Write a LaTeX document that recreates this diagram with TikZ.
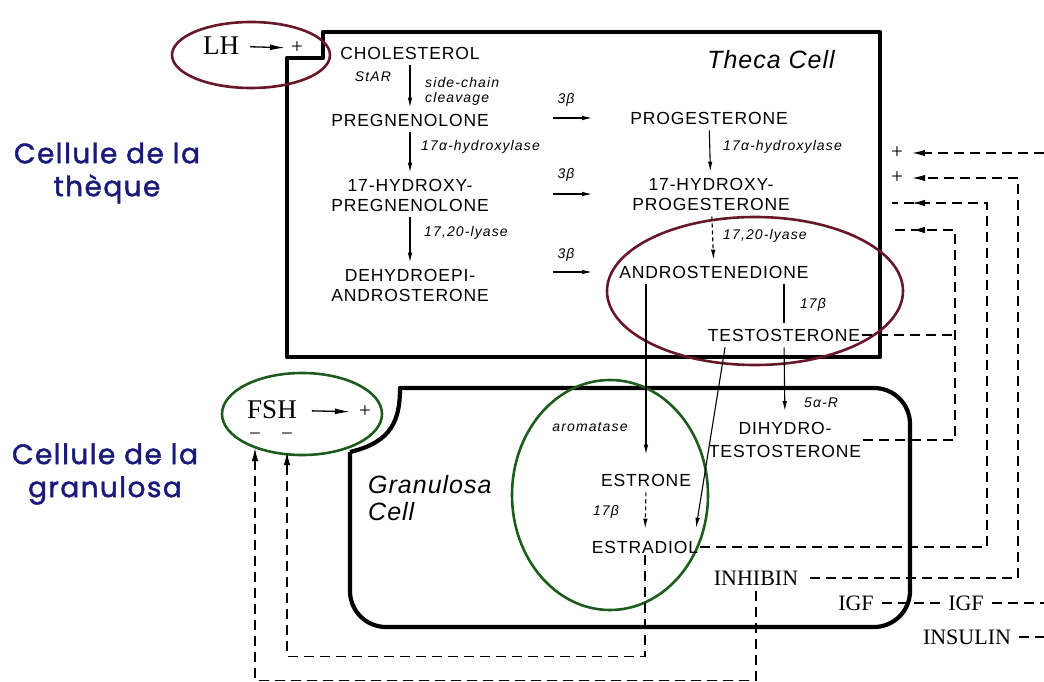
\documentclass[tikz,border=0pt]{standalone}
\usepackage{fontspec}
\setmainfont{Liberation Serif}
\setsansfont{Liberation Sans}
\newfontfamily\stfont[LetterSpace=5]{Liberation Sans}
\newfontfamily\enzfont[LetterSpace=8]{Liberation Sans}
\newfontfamily\titlefont[LetterSpace=4]{Liberation Sans}
\newfontfamily\sidefont[LetterSpace=5,FakeBold=1.6]{Poppins}
\usetikzlibrary{arrows.meta, calc, shapes.geometric, decorations.markings}

\definecolor{thecared}{RGB}{102,24,42}
\definecolor{granugreen}{RGB}{30,92,30}
\definecolor{sideblue}{RGB}{26,26,122}

\tikzset{
  cellwall/.style={line width=4.2pt, line join=round},
  ring/.style={ellipse, draw=#1, line width=2.6pt, inner sep=0pt, outer sep=0pt},
  steroid/.style={font=\stfont\fontsize{17.5}{20}\selectfont, align=center, inner sep=2pt},
  enzyme/.style={font=\enzfont\itshape\fontsize{14}{15}\selectfont, inner sep=1pt},
  hormone/.style={font=\rmfamily\fontsize{22}{24}\selectfont, inner sep=2pt},
  gonadotropin/.style={font=\rmfamily\fontsize{27}{30}\selectfont, inner sep=0pt},
  signnode/.style={font=\rmfamily\fontsize{21}{22}\selectfont, inner sep=0pt},
  celltitle/.style={font=\titlefont\itshape\fontsize{25}{27}\selectfont, inner sep=0pt},
  sidelabel/.style={font=\sidefont\fontsize{28}{33}\selectfont, text=sideblue, align=center},
  rx/.style={-{Latex[length=10pt,width=4.5pt]}, line width=1.1pt, shorten <=4pt, shorten >=4pt},
  rxdash/.style={rx, dash pattern=on 4pt off 3pt},
  fb/.style={line width=1.3pt, dash pattern=on 10pt off 6pt},
  fbtip/.style={-{Latex[length=13pt,width=6.5pt]}},
  fbmark/.style={postaction={decorate}, decoration={markings,
      mark=at position -20pt with {\arrow{Latex[length=13pt,width=6.5pt]}}}},
}

\begin{document}
\begin{tikzpicture}[x=1pt, y=-1pt]
  \useasboundingbox (0,0) rectangle (1044,682);

  % side labels
  \node[sidelabel] (thlab) at (107,173) {Cellule de la\\thèque};
  \node[sidelabel] (grlab) at (105,474) {Cellule de la\\granulosa};

  % theca cell, notched for LH
  \draw[cellwall] (287,357) -- (287,58) -- (323,58) -- (323,32)
    -- (880,32) -- (880,357) -- cycle;
  \node[celltitle] (thtitle) at (771,60) {Theca Cell};

  % granulosa cell, cut round FSH
  \draw[cellwall] (350,452) .. controls (392,442) and (400,420) .. (400,388)
    [rounded corners=36pt] -- (910,388) -- (910,627) -- (350,627) -- (350,452);
  \node[celltitle, align=left, anchor=west] (grtitle) at (368,498) {Granulosa\\Cell};

  % rings
  \node[ring=thecared, minimum width=158pt, minimum height=66pt] (lhring) at (251,55) {};
  \node[ring=thecared, minimum width=296pt, minimum height=148pt] (andring) at (755,291) {};
  \node[ring=granugreen, minimum width=160pt, minimum height=82pt] (fshring) at (302,414) {};
  \node[ring=granugreen, minimum width=196pt, minimum height=230pt] (estring) at (610,495) {};

  % LH and FSH
  \node[gonadotropin] (lh) at (221,46) {LH};
  \node[signnode] (lhplus) at (297,48) {+};
  \draw[rx, -{Latex[length=15pt,width=6pt]}, line width=1.3pt, shorten <=11pt, shorten >=6pt] (lh) -- (lhplus);
  \node[gonadotropin] (fsh) at (272,410) {FSH};
  \node[signnode] (fshplus) at (365,412) {+};
  \draw[rx, -{Latex[length=15pt,width=6pt]}, line width=1.3pt, shorten <=15pt, shorten >=9pt] (fsh) -- (fshplus);
  \node[signnode] (mF) at (255,437) {−};
  \node[signnode] (mH) at (287,437) {−};

  % delta-5 pathway
  \node[steroid] (chol) at (410,53) {CHOLESTEROL};
  \node[steroid] (preg) at (410,120) {PREGNENOLONE};
  \node[steroid] (ohpreg) at (410,195) {17-HYDROXY-\\PREGNENOLONE};
  \node[steroid] (dhea) at (410,285) {DEHYDROEPI-\\ANDROSTERONE};
  \node[enzyme] (star) at (373,77) {StAR};
  \node[enzyme, align=left, anchor=west] (scc) at (424,91) {side-chain\\cleavage};
  \node[enzyme, anchor=west] (hydA) at (420,147) {17α-hydroxylase};
  \node[enzyme, anchor=west] (lyaA) at (423,233) {17,20-lyase};
  \draw[rx] (chol) -- (preg);
  \draw[rx] (preg) -- (ohpreg);
  \draw[rx] (ohpreg) -- (dhea);

  % delta-4 pathway
  \node[steroid] (prog) at (709,118) {PROGESTERONE};
  \node[steroid] (ohprog) at (711,194) {17-HYDROXY-\\PROGESTERONE};
  \node[steroid] (andro) at (714,272) {ANDROSTENEDIONE};
  \node[steroid] (testo) at (784,335) {TESTOSTERONE};
  \node[enzyme, anchor=west] (hydB) at (722,147) {17α-hydroxylase};
  \node[enzyme, anchor=west] (lyaB) at (722,236) {17,20-lyase};
  \node[enzyme] (hsdT) at (813,305) {17β};
  \draw[rx] (prog) -- (ohprog);
  \draw[rxdash] (ohprog) -- (andro);
  \draw[line width=1.1pt, shorten <=4pt, shorten >=4pt] (andro.south -| testo.north) -- (testo.north);

  % 3beta steps
  \node[enzyme] (hsdA) at (566,100) {3β};
  \node[enzyme] (hsdB) at (566,175) {3β};
  \node[enzyme] (hsdC) at (566,255) {3β};
  \draw[rx, shorten <=62pt, shorten >=36pt] (preg.east |- prog) -- (prog.west);
  \draw[rx, shorten <=62pt, shorten >=38pt] (ohpreg.east |- ohprog) -- (ohprog.west);
  \draw[rx, shorten <=62pt, shorten >=25pt] (dhea.east |- andro) -- (andro.west);

  % granulosa products
  \node[steroid] (dht) at (785,440) {DIHYDRO-\\[3pt]TESTOSTERONE};
  \node[enzyme, anchor=west] (redA) at (803,403) {5α-R};
  \node[steroid] (estrone) at (646,480) {ESTRONE};
  \node[steroid] (estradiol) at (645,547) {ESTRADIOL};
  \node[enzyme] (arom) at (590,427) {aromatase};
  \node[enzyme] (hsdE) at (606,512) {17β};
  \draw[rx, shorten >=9pt] (testo.south) -- (dht.north);
  \draw[rx, shorten >=17pt] (andro.south -| estrone.north) -- (estrone.north);
  \draw[rxdash, shorten >=10pt] (estrone.south) -- (estradiol.north);
  \draw[rx, shorten >=11pt] ($(testo.south west)+(20,0)$) -- ($(estradiol.north east)+(-6,0)$);

  % peptides
  \node[hormone] (inhibin) at (756,578) {INHIBIN};
  \node[hormone] (igfin) at (856,603) {IGF};
  \node[hormone] (igfout) at (966,603) {IGF};
  \node[hormone] (insulin) at (967,637) {INSULIN};

  % feedback to theca
  \node[signnode] (plusA) at (897,153) {+};
  \node[signnode] (plusB) at (897,178) {+};
  \coordinate (edgeA) at (1044,153);
  \coordinate (turnB) at (1018,178);
  \coordinate (turnC) at (987,203);
  \coordinate (endC) at (892,203);
  \coordinate (turnD) at (955,230);
  \coordinate (endD) at (892,230);
  \draw[fb, fbtip, shorten >=9pt] (edgeA) -- (plusA);
  \draw[fb, fbtip, shorten <=10pt, shorten >=9pt] (inhibin.east) -| (turnB) -- (plusB);
  \draw[fb, fbmark] (estradiol.east) -| (turnC) -- (endC);
  \draw[fb, fbmark] (dht.east) -| (turnD) -- (endD);
  \draw[fb] (testo.east) -- (testo.east -| turnD);

  % IGF and insulin
  \coordinate (edgeI) at (1044,603);
  \coordinate (edgeN) at (1044,637);
  \draw[fb, shorten <=6pt, shorten >=6pt] (igfin) -- (igfout);
  \draw[fb, shorten <=6pt] (igfout) -- (edgeI);
  \draw[fb, shorten <=6pt] (insulin) -- (edgeN);

  % feedback to FSH
  \draw[fb, fbtip] (estradiol.south) -- ++(0,101) -| ($(mH)+(0,15)$);
  \draw[fb, fbtip, shorten <=4pt] (inhibin.south) -- ++(0,93) -| ($(mF)+(0,11)$);
\end{tikzpicture}
\end{document}
